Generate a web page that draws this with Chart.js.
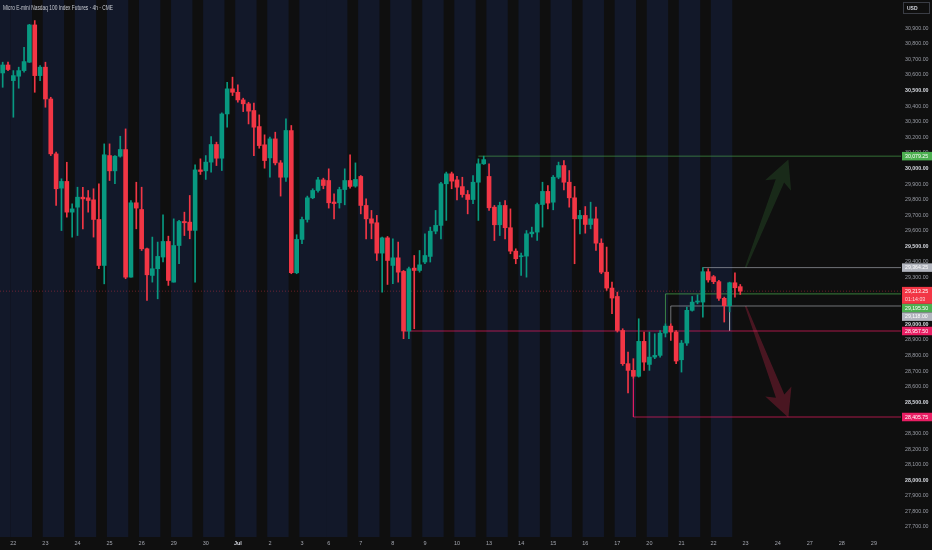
<!DOCTYPE html>
<html><head><meta charset="utf-8">
<script src="https://cdn.jsdelivr.net/npm/chart.js@4.4.1/dist/chart.umd.min.js"></script>
<style>html,body{margin:0;padding:0;background:#0f0f0f;overflow:hidden}#wrap{width:932px;height:550px;position:relative}</style>
</head><body><div id="wrap"><canvas id="c"></canvas></div>
<script>
// ---- candle data (4h bars) ----
const openP = [30613,30664,30564,30592,30628,30682,30921,30596,30650,30446,
30094,29874,29917,29720,29752,29816,29812,29799,29673,29378,
30083,29985,30079,30122,29303,29780,29737,29485,29314,29357,
29432,29532,29271,29506,29660,29656,29603,29991,29985,30041,
30154,30066,30350,30511,30489,30440,30415,30372,30269,30152,
30068,30190,30036,29944,30244,29331,29545,29673,29812,29859,
29927,29923,29785,29780,29865,29923,29887,29949,29763,29677,
29652,29457,29555,29378,29427,29340,28957.5,29361,29346,29400,
29436,29598,29635,29902,29966,29927,29884,29833,29801,29912,
30030,29949,29752,29639,29763,29620,29470,29434,29438,29581,
29592,29769,29853,29784,29944,30019,29912,29812,29677,29699,
29641,29677,29521,29335,29233,29179,28961,28748,28705,28667,
28891,28743,28790,28801,28944,28989,28951,28773,28880,29090,
29143,29143,29338,29306,29274,29167,29120,29267,29242];
const highP = [30682,30682,30628,30650,30778,30925,30949,30660,30682,30457,
30105,29934,30040,29773,29880,29880,29859,29870,29902,30158,
30158,30083,30207,30254,29795,29912,29880,29490,29560,29528,
29703,29566,29677,29667,29720,29827,30023,30062,30083,30205,
30169,30357,30553,30586,30536,30451,30425,30419,30344,30216,
30201,30233,30051,30318,30276,29575,29688,29823,29870,29944,
29938,29998,29837,29880,29998,30088,30036,29955,29805,29731,
29699,29560,29564,29549,29528,29346,29367,29442,29474,29581,
29624,29731,29912,29977,29977,29949,29944,29859,29955,30062,
30079.25,30030,29763,29784,29795,29741,29485,29457,29602,29624,
29778,29912,29891,29955,30041,30051,29987,29885,29731,29756,
29784,29752,29549,29496,29271,29207,28972,28822,28780,29036,
28951,28951,28940,28961,29004,29004,28961,28897,29111,29179,
29190,29364.25,29357,29314,29282,29175,29271,29331,29256];
const lowP = [30521,30628,30329,30515,30618,30680,30489,30564,30393,30083,
29763,29602,29688,29560,29570,29613,29720,29560,29357,29260,
29923,29902,30073,29293,29303,29613,29474,29154,29271,29164,
29400,29250,29271,29389,29570,29549,29271,29962,29930,29977,
30019,29987,30265,30468,30425,30365,30286,30083,30130,30002,
29944,30023,29823,29917,29325,29325,29517,29656,29806,29848,
29870,29746,29677,29746,29767,29874,29880,29709,29549,29549,
29410,29207,29256,29261,29271,28908,28908,28972,29335,29389,
29400,29581,29549,29667,29870,29799,29816,29709,29774,29667,
30026,29731,29538,29570,29549,29453,29389,29314,29303,29560,
29538,29624,29741,29735,29934,29863,29752,29389,29581,29585,
29613,29474,29325,29218,29068,28951,28737,28560,28655,28662,
28705,28705,28780,28790,28919,28897,28748,28694,28865,29085,
29132,29047,29271,29261,29154,29015,29080,29175,29192];
const closeP = [30664,30635,30596,30628,30686,30921,30596,30650,30446,30094,
29870,29917,29720,29741,29816,29805,29795,29673,29378,30088,
29985,30079,30122,29303,29780,29746,29485,29318,29357,29436,
29532,29282,29506,29660,29652,29603,29991,29981,30041,30154,
30066,30350,30511,30489,30440,30415,30368,30265,30147,30051,
30190,30036,29944,30244,29331,29545,29673,29812,29859,29927,
29891,29780,29775,29865,29923,29885,29930,29763,29677,29649,
29457,29555,29410,29427,29335,28957.5,29357,29346,29382,29442,
29598,29635,29902,29966,29919,29880,29833,29801,29912,30030,
30057,29748,29639,29763,29620,29470,29421,29440,29581,29592,
29769,29853,29778,29944,30019,29912,29812,29677,29699,29641,
29677,29521,29335,29233,29169,28961,28748,28705,28667,28891,
28758,28790,28801,28944,28989,28951,28765,28880,29090,29143,
29150,29338,29285,29274,29167,29120,29267,29235,29213.25];

// ---- time axis: trading days ----
const dayLabels = ['','22','23','24','25','26','29','30','Jul','2','3','6','7','8','9','10','13','14','15','16','17','20','21','22','23','24','27','28','29'];
const dayBarCounts = [2,6,6,6,6,6,6,6,6,6,5,6,6,6,6,6,6,6,6,6,6,6,6,6,6,6,6,6,6];
const dayHighlightBars = [2,4,4,4,4,4,4,4,4,4,5,4,4,4,4,4,4,4,4,4,4,4,4,4,0,0,0,0,0];

// ---- drawn levels ----
const levelValues = [30079.25, 29364.25, 29195.50, 29118.00, 28957.50, 28405.75];
const levelStartBars = [89, 131, 124, 125, 75, 118];
const levelAnchorPrices = [30079.25, 29364.25, 29004, 29004, 28957.50, 28655];
const levelLabels = ['30,079.25','29,364.25','29,195.50','29,118.00','28,957.50','28,405.75'];
const extraSegmentBars = [136, 136];
const extraSegmentPrices = [29118.00, 28957.50];
const lastPriceText = '29,213.25';
const countdownText = '01:14:03';
// projection arrows (bar index, price)
const arrowUpPts = [[139, 29364.25], [147, 30058]];
const arrowDownPts = [[139, 29118], [147, 28402]];

const titleText = 'Micro E-mini Nasdaq 100 Index Futures · 4h · CME';

// ---- styles ----
const UP = '#089981', DN = '#f23645';
const levelColors = ['rgba(76,175,80,0.6)','rgba(178,181,190,0.6)','rgba(76,175,80,0.7)','rgba(178,181,190,0.6)','rgba(233,30,99,0.7)','rgba(233,30,99,0.7)'];
const levelBoxColors = ['#4caf50','#b2b5be','#4caf50','#b2b5be','#e91e63','#e91e63'];

const N = closeP.length;
const X_MIN = -0.5, X_MAX = 168.07;
const candleColors = closeP.map((c,i)=> c >= openP[i] ? UP : DN);

const dayStarts = [];
{ let s = 0; dayBarCounts.forEach(n => { dayStarts.push(s); s += n; }); }
const tickMap = {};
dayStarts.forEach((s,k)=>{ if (dayLabels[k]) tickMap[s] = dayLabels[k]; });

const datasets = [];
datasets.push({
  type:'bar', label:'wick', order:1, grouped:false,
  data: highP.map((h,i)=>({x:i, y:[lowP[i], h]})),
  backgroundColor: candleColors, borderWidth:0, barThickness:1, minBarLength:1
});
datasets.push({
  type:'bar', label:'body', order:0, grouped:false,
  data: openP.map((o,i)=>({x:i, y:[Math.min(o,closeP[i]), Math.max(o,closeP[i])]})),
  backgroundColor: candleColors, borderWidth:0, barThickness:4, minBarLength:1
});
levelValues.forEach((v,k)=>{
  datasets.push({
    type:'line', label:'lvl'+k, order:3,
    data:[{x:levelStartBars[k], y:levelAnchorPrices[k]},{x:levelStartBars[k], y:v},{x:X_MAX, y:v}],
    borderColor: levelColors[k], borderWidth:1, pointRadius:0, fill:false, tension:0
  });
});
datasets.push({
  type:'line', label:'seg', order:3,
  data: extraSegmentBars.map((b,i)=>({x:b, y:extraSegmentPrices[i]})),
  borderColor:'rgba(178,181,190,0.55)', borderWidth:1, pointRadius:0, fill:false
});
datasets.push({
  type:'line', label:'last', order:3,
  data:[{x:X_MIN, y:closeP[N-1]},{x:X_MAX, y:closeP[N-1]}],
  borderColor:'rgba(242,54,69,0.4)', borderWidth:1, borderDash:[1,2], pointRadius:0, fill:false
});

function drawArrow(ctx, x0,y0,x1,y1,color){
  const dx=x1-x0, dy=y1-y0, L=Math.hypot(dx,dy), ux=dx/L, uy=dy/L, nx=-uy, ny=ux;
  const headLen=28, headHalf=14, shaftEnd=4.5, shaftStart=0.8, notch=5;
  const bx=x1-ux*headLen, by=y1-uy*headLen;
  const ix=bx+ux*notch, iy=by+uy*notch;
  ctx.beginPath();
  ctx.moveTo(x0+nx*shaftStart, y0+ny*shaftStart);
  ctx.lineTo(ix+nx*shaftEnd, iy+ny*shaftEnd);
  ctx.lineTo(bx+nx*headHalf, by+ny*headHalf);
  ctx.lineTo(x1,y1);
  ctx.lineTo(bx-nx*headHalf, by-ny*headHalf);
  ctx.lineTo(ix-nx*shaftEnd, iy-ny*shaftEnd);
  ctx.lineTo(x0-nx*shaftStart, y0-ny*shaftStart);
  ctx.closePath();
  ctx.fillStyle=color; ctx.fill();
}

const bgPlugin = {
  id:'tvbg',
  beforeDraw(chart){
    const {ctx, chartArea:a, scales:{x}} = chart;
    ctx.save();
    ctx.fillStyle='#0f0f0f'; ctx.fillRect(0,0,chart.width,chart.height);
    ctx.fillStyle='#121829';
    dayBarCounts.forEach((n,k)=>{
      const h = dayHighlightBars[k];
      if (h>0){
        const s = dayStarts[k];
        const x0 = Math.max(a.left, x.getPixelForValue(s-0.5));
        const x1 = x.getPixelForValue(s+h-0.5);
        ctx.fillRect(x0, a.top, x1-x0, a.bottom-a.top);
      }
    });
    ctx.restore();
  },
  beforeDatasetsDraw(chart){
    const {ctx, scales:{x,y}} = chart;
    ctx.save();
    drawArrow(ctx, x.getPixelForValue(arrowUpPts[0][0]), y.getPixelForValue(arrowUpPts[0][1]),
      x.getPixelForValue(arrowUpPts[1][0]), y.getPixelForValue(arrowUpPts[1][1]), 'rgba(76,175,80,0.17)');
    drawArrow(ctx, x.getPixelForValue(arrowDownPts[0][0]), y.getPixelForValue(arrowDownPts[0][1]),
      x.getPixelForValue(arrowDownPts[1][0]), y.getPixelForValue(arrowDownPts[1][1]), 'rgba(210,40,75,0.3)');
    ctx.restore();
  },
  afterDraw(chart){
    const {ctx, chartArea:a, scales:{y}} = chart;
    ctx.save();
    // title
    ctx.font = '6.5px "Liberation Sans Narrow", "Liberation Sans", sans-serif';
    ctx.fillStyle = '#c9ccd3';
    ctx.textBaseline = 'middle'; ctx.textAlign = 'left';
    const tw = ctx.measureText(titleText).width;
    const sx = 110 / tw;
    ctx.save(); ctx.translate(3, 8); ctx.scale(sx, 1); ctx.fillText(titleText, 0, 0); ctx.restore();
    // USD box
    ctx.strokeStyle = '#3a3d45'; ctx.lineWidth = 1;
    ctx.strokeRect(903.5, 2.5, 26, 11);
    ctx.fillStyle = '#d1d4dc'; ctx.font = 'bold 5px "Liberation Sans", sans-serif';
    ctx.fillText('USD', 907, 8.5);
    // price boxes
    const boxes = levelValues.map((v,k)=>({y:y.getPixelForValue(v), h:8.5, bg:levelBoxColors[k], fg:'#ffffff', lines:[levelLabels[k]]}));
    boxes.push({y:y.getPixelForValue(closeP[N-1]), h:17, bg:DN, fg:'#ffffff', lines:[lastPriceText, countdownText]});
    boxes.forEach(b=>{ b.top = b.y - 4.25; });
    boxes.sort((p,q)=>p.top-q.top);
    let prevBottom = -1e9;
    const left = a.right;
    boxes.forEach(b=>{
      if (b.top < prevBottom) b.top = prevBottom;
      prevBottom = b.top + b.h;
      ctx.fillStyle = b.bg;
      ctx.fillRect(left+1, b.top, chart.width-left-1, b.h);
      ctx.fillStyle = b.fg;
      ctx.font = '5.2px "Liberation Sans", sans-serif';
      ctx.textBaseline = 'middle';
      b.lines.forEach((t,j)=>{
        if (j>0) ctx.fillStyle = 'rgba(255,255,255,0.8)';
        ctx.fillText(t, left+4, b.top + 4.4 + j*8.5);
      });
    });
    ctx.restore();
  }
};

new Chart(document.getElementById('c'), {
  type:'bar',
  data:{ datasets },
  options:{
    responsive:true, maintainAspectRatio:false, animation:false,
    layout:{padding:0},
    plugins:{legend:{display:false}, tooltip:{enabled:false}, title:{display:false}},
    scales:{
      x:{
        type:'linear', min:X_MIN, max:X_MAX, offset:false,
        grid:{display:false, drawTicks:false}, border:{display:false},
        afterFit(s){ s.height = 13; s.paddingLeft = 0; s.paddingRight = 0; },
        afterBuildTicks(s){ s.ticks = Object.keys(tickMap).map(v=>({value:+v})); },
        ticks:{
          autoSkip:false, maxRotation:0, padding:3,
          color: c => (c.tick && tickMap[c.tick.value]==='Jul') ? '#d1d4dc' : '#a3a6af',
          font: c => ({family:'"Liberation Sans", sans-serif', size:5.5, weight:(c.tick && tickMap[c.tick.value]==='Jul')?'bold':'normal'}),
          callback: v => tickMap[v] || ''
        }
      },
      y:{
        type:'linear', position:'right', min:27636, max:31081,
        grid:{display:false, drawTicks:false}, border:{display:false},
        afterFit(s){ s.width = 31; s.paddingTop = 0; s.paddingBottom = 0; },
        ticks:{
          stepSize:100, autoSkip:false, maxTicksLimit:1000, padding:4, crossAlign:'near',
          color: c => (c.tick && c.tick.value % 500 === 0) ? '#d8dbe2' : '#9a9da6',
          font: c => ({family:'"Liberation Sans", sans-serif', size:5.3, weight:(c.tick && c.tick.value % 500 === 0)?'bold':'normal'}),
          callback: v => (v < 27700 || v > 30900 || v % 100 !== 0) ? '' : v.toLocaleString('en-US',{minimumFractionDigits:2, maximumFractionDigits:2})
        }
      }
    }
  },
  plugins:[bgPlugin]
});
</script>
</body></html>
